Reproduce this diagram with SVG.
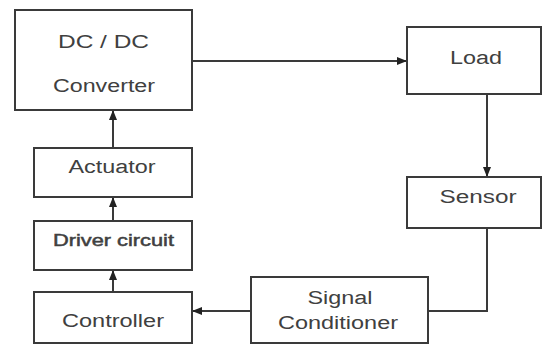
<svg xmlns="http://www.w3.org/2000/svg" width="543" height="345" viewBox="0 0 543 345">
<style>
.box{fill:#fff;stroke:#3a3a3a;stroke-width:2}
.lbl{font-family:"Liberation Sans",Arial,sans-serif;font-size:18px;fill:#404040;text-anchor:middle}
.c{fill:none;stroke:#3a3a3a;stroke-width:2}
</style>
<defs>
<marker id="ah" viewBox="0 0 10 10" refX="10" refY="5" markerWidth="10" markerHeight="10" markerUnits="userSpaceOnUse" orient="auto">
<path d="M0,1 L10,5 L0,9 Z" fill="#222"/>
</marker>
</defs>
<rect width="543" height="345" fill="#fff"/>
<g id="connectors">
<path class="c" d="M192,61 H407" marker-end="url(#ah)"/>
<path class="c" d="M487,94 V177" marker-end="url(#ah)"/>
<path class="c" d="M487,228 V311 H428"/>
<path class="c" d="M251,311 H192" marker-end="url(#ah)"/>
<path class="c" d="M113,292 V270" marker-end="url(#ah)"/>
<path class="c" d="M113,221 V197" marker-end="url(#ah)"/>
<path class="c" d="M113,148 V110" marker-end="url(#ah)"/>
</g>
<g id="dcdc">
<rect class="box" x="15" y="10" width="177" height="100"/>
<text class="lbl" x="103.5" y="48" textLength="91" lengthAdjust="spacingAndGlyphs">DC / DC</text>
<text class="lbl" x="104" y="92" textLength="102" lengthAdjust="spacingAndGlyphs">Converter</text>
</g>
<g id="load">
<rect class="box" x="407" y="27" width="134" height="67"/>
<text class="lbl" x="476" y="64" textLength="52" lengthAdjust="spacingAndGlyphs">Load</text>
</g>
<g id="sensor">
<rect class="box" x="407" y="177" width="134" height="51"/>
<text class="lbl" x="478" y="203" textLength="77" lengthAdjust="spacingAndGlyphs">Sensor</text>
</g>
<g id="signal">
<rect class="box" x="251" y="277" width="177" height="66"/>
<text class="lbl" x="340" y="304" textLength="65" lengthAdjust="spacingAndGlyphs">Signal</text>
<text class="lbl" x="338" y="329" textLength="120" lengthAdjust="spacingAndGlyphs">Conditioner</text>
</g>
<g id="controller">
<rect class="box" x="34" y="292" width="158" height="51"/>
<text class="lbl" x="113" y="327" textLength="102" lengthAdjust="spacingAndGlyphs">Controller</text>
</g>
<g id="driver">
<rect class="box" x="34" y="221" width="158" height="49"/>
<text class="lbl" x="113.5" y="246" textLength="121" lengthAdjust="spacingAndGlyphs" style="font-size:17px;stroke:#404040;stroke-width:0.5">Driver circuit</text>
</g>
<g id="actuator">
<rect class="box" x="34" y="148" width="158" height="49"/>
<text class="lbl" x="112" y="173" textLength="87" lengthAdjust="spacingAndGlyphs">Actuator</text>
</g>
</svg>
